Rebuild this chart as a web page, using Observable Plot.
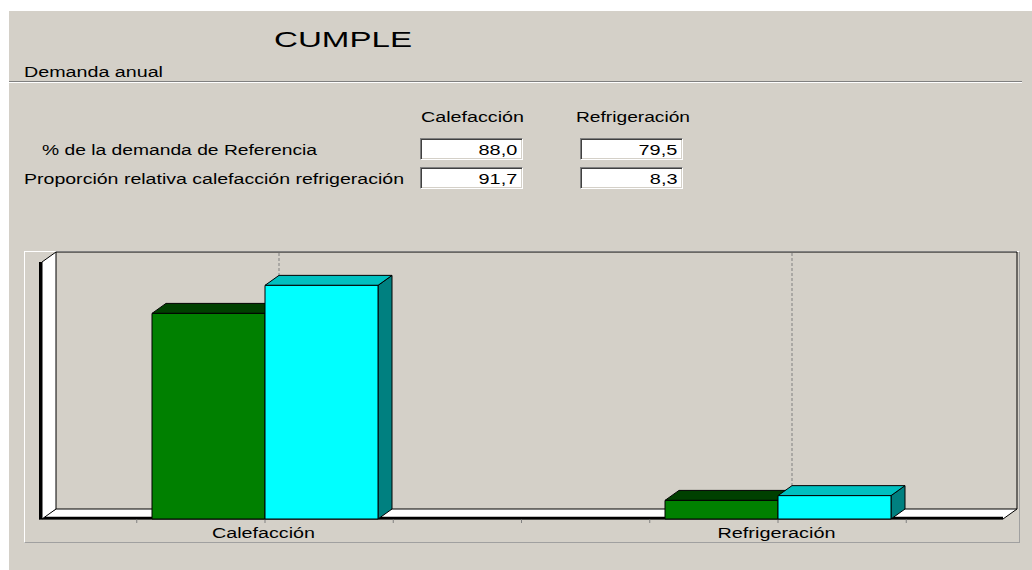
<!DOCTYPE html>
<html><head><meta charset="utf-8">
<script src="https://cdn.jsdelivr.net/npm/d3@7"></script>
<script src="https://cdn.jsdelivr.net/npm/@observablehq/plot@0.6"></script>
<style>
html,body{margin:0;padding:0;width:1032px;height:570px;overflow:hidden;background:#fff;}
#dlg{position:absolute;left:9px;top:11px;right:0;bottom:0;background:#d4d0c8;}
.t{position:absolute;white-space:nowrap;color:#000;font-family:"Liberation Sans",Arial,sans-serif;}
.box{position:absolute;box-sizing:border-box;background:#fff;border-top:1px solid #808080;border-left:1px solid #808080;border-bottom:1px solid #fff;border-right:1px solid #fff;box-shadow:inset 1px 1px 0 #404040, inset -1px -1px 0 #d4d0c8;}
.sep{position:absolute;left:9px;width:1013px;height:1px;}
#panel{position:absolute;left:24px;top:251px;width:996px;height:292px;box-sizing:border-box;border-top:1px solid #fff;border-left:1px solid #fff;border-right:1px solid #a0a0a0;border-bottom:1px solid #a0a0a0;}
#chart{position:absolute;left:0;top:240px;}
</style></head><body>
<div id="dlg"></div>
<div class="sep" style="top:81px;background:#808080"></div>
<div class="sep" style="top:82px;background:#fff"></div>
<div id="panel"></div>
<div id="chart"></div>
<script>
// ---- data ----
const title = "CUMPLE";
const section = "Demanda anual";
const categories = ["Calefacción", "Refrigeración"];
const series = ["Objeto", "Referencia"];
const rowLabels = ["% de la demanda de Referencia", "Proporción relativa calefacción refrigeración"];
const pctReferencia = [88.0, 79.5];     // % de la demanda de referencia
const proporcion = [91.7, 8.3];         // proporción relativa
const demandaObjeto = [44.0, 3.98];     // bar heights (green)
const demandaReferencia = [50.0, 5.0];  // bar heights (cyan)

const fmt = v => v.toFixed(1).replace(".", ",");

// ---- text helper ----
function place(text, o) {
  const el = document.createElement("div");
  el.className = "t";
  el.textContent = text;
  el.style.fontSize = o.size + "px";
  el.style.lineHeight = o.size + "px";
  el.style.top = (o.baseline - 0.8465 * o.size) + "px";
  document.body.appendChild(el);
  const w = el.getBoundingClientRect().width;
  const k = o.width ? o.width / w : o.scale;
  if (o.right != null) {
    el.style.left = (o.right - w) + "px";
    el.style.transformOrigin = "right center";
  } else {
    el.style.left = o.left + "px";
    el.style.transformOrigin = "left center";
  }
  el.style.transform = `scaleX(${k})`;
  return el;
}
function box(left, top, width, height) {
  const b = document.createElement("div");
  b.className = "box";
  Object.assign(b.style, {left: left + "px", top: top + "px", width: width + "px", height: height + "px"});
  document.body.appendChild(b);
}

place(title, {left: 274, baseline: 48, size: 22, width: 138});
place(section, {left: 24, baseline: 77, size: 14, width: 139});
place(categories[0], {left: 421, baseline: 122, size: 14, width: 103});
place(categories[1], {left: 576, baseline: 122, size: 14, width: 114});
place(rowLabels[0], {left: 42, baseline: 155, size: 14, width: 275});
place(rowLabels[1], {left: 24, baseline: 184, size: 14, width: 380});

const boxLeft = [420, 580], boxTop = [138, 167];
[pctReferencia, proporcion].forEach((arr, r) => {
  arr.forEach((v, c) => {
    box(boxLeft[c], boxTop[r], 103, 22);
    place(fmt(v), {right: boxLeft[c] + 97, baseline: boxTop[r] + 17, size: 14, scale: 1.42});
  });
});

// ---- chart ----
const rows = categories.flatMap((c, i) => [
  {category: c, series: series[0], value: demandaObjeto[i]},
  {category: c, series: series[1], value: demandaReferencia[i]}
]);
const palette = {
  Objeto: {front: "#008000", top: "#004000", side: "#004000"},
  Referencia: {front: "#00ffff", top: "#00c0c0", side: "#008080"}
};
const DX = 14, DY = -10;
const bwOf = s => typeof s.bandwidth === "function" ? s.bandwidth() : s.bandwidth;

const stage = Plot.frame({
  render: (I, scales, values, dims) => {
    const {width, height, marginTop: T, marginLeft: L, marginRight, marginBottom} = dims;
    const R = width - marginRight, B = height - marginBottom;
    const W = L + 3;
    const g = d3.create("svg:g");
    // back wall outline
    g.append("path").attr("d", `M${W + DX},${T + DY}H${R + DX}V${B + DY}`)
      .attr("fill", "none").attr("stroke", "#000");
    // dashed grid on the back wall at category centres
    const bw = bwOf(scales.x);
    for (const c of categories) {
      const cx = scales.x(c) + bw / 2 + DX;
      g.append("line").attr("x1", cx).attr("x2", cx).attr("y1", T + DY + 1).attr("y2", B + DY)
        .attr("stroke", "#808080").attr("stroke-dasharray", "3,2");
    }
    // floor
    g.append("path").attr("d", `M${L},${B}L${W + DX},${B + DY}H${R + DX}L${R},${B}Z`)
      .attr("fill", "#fff").attr("stroke", "#000").attr("stroke-linejoin", "round");
    g.append("line").attr("x1", L).attr("x2", R).attr("y1", B - 1).attr("y2", B - 1)
      .attr("stroke", "#000").attr("stroke-width", 2.5);
    // left wall
    g.append("path").attr("d", `M${W},${B}V${T}L${W + DX},${T + DY}V${B + DY}Z`)
      .attr("fill", "#fff").attr("stroke", "#000");
    g.append("line").attr("x1", L + 1.5).attr("x2", L + 1.5).attr("y1", T).attr("y2", B)
      .attr("stroke", "#000").attr("stroke-width", 3);
    // minor ticks under the floor
    const c0 = scales.x(categories[0]) + bw / 2;
    const step = scales.x(categories[1]) - scales.x(categories[0]);
    for (let k = -2; k <= 6; k++) {
      const tx = c0 + k * step / 4;
      if (tx < L + 4 || tx > R - 4) continue;
      g.append("line").attr("x1", tx).attr("x2", tx).attr("y1", B + 0.5).attr("y2", B + 4)
        .attr("stroke", "#808080");
    }
    return g.node();
  }
});

const bars = Plot.barY(rows, {
  x: "category", y1: 0, y2: "value",
  render: (I, scales) => {
    const g = d3.create("svg:g");
    const bw = bwOf(scales.x);
    const y0 = scales.y(0);
    for (const i of I) {
      const d = rows[i];
      const s = series.indexOf(d.series);
      const x0 = scales.x(d.category) + s * bw / 2, x1 = x0 + bw / 2;
      const yt = scales.y(d.value);
      const col = palette[d.series];
      const bg = g.append("g").attr("stroke", "#000").attr("stroke-linejoin", "round");
      bg.append("path").attr("d", `M${x1},${y0}L${x1 + DX},${y0 + DY}V${yt + DY}L${x1},${yt}Z`).attr("fill", col.side);
      bg.append("path").attr("d", `M${x0},${yt}L${x0 + DX},${yt + DY}H${x1 + DX}L${x1},${yt}Z`).attr("fill", col.top);
      bg.append("rect").attr("x", x0).attr("y", yt).attr("width", x1 - x0).attr("height", y0 - yt).attr("fill", col.front);
    }
    return g.node();
  }
});

const labels = Plot.text(categories, {
  x: d => d, frameAnchor: "bottom", lineAnchor: "top", dy: 9, dx: -2,
  fontSize: 14, fill: "#000"
});

const chart = Plot.plot({
  width: 1032, height: 310,
  marginLeft: 39, marginRight: 29, marginTop: 22, marginBottom: 31,
  style: {background: "transparent", overflow: "visible", fontFamily: "'Liberation Sans', Arial, sans-serif"},
  x: {type: "band", domain: categories, paddingInner: 0.56, paddingOuter: 0.218, axis: null},
  y: {domain: [0, 55], axis: null},
  marks: [stage, bars, labels]
});
const labelWidths = {"Calefacción": 103, "Refrigeración": 118};
chart.querySelectorAll("text").forEach(t => {
  const w = labelWidths[t.textContent];
  if (w) { t.setAttribute("textLength", w); t.setAttribute("lengthAdjust", "spacingAndGlyphs"); }
});
document.getElementById("chart").appendChild(chart);
</script>
</body></html>
